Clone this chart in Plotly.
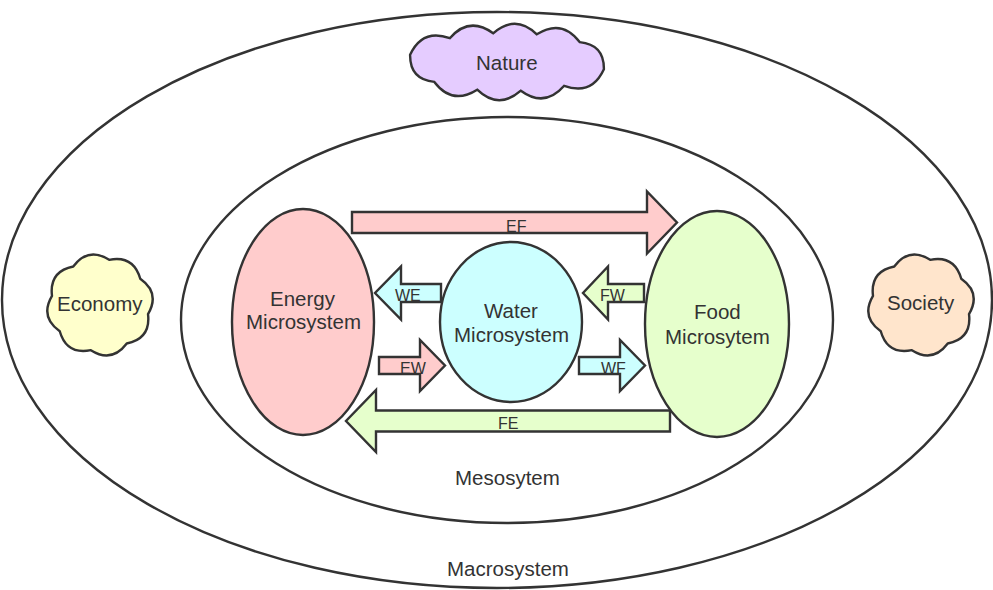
import numpy as np
import plotly.graph_objects as go

W, H = 993, 590

# ---------------- diagram content ----------------
system_labels = ["Macrosystem", "Mesosytem"]
micro_names = ["Energy", "Water", "Food"]
micro_line1 = ["Energy", "Water", "Food"]
micro_line2 = ["Microsystem", "Microsystem", "Microsytem"]
context_labels = ["Nature", "Economy", "Society"]
flow_labels = ["EF", "WE", "FW", "EW", "WF", "FE"]
flow_from = ["Energy", "Water", "Food", "Energy", "Water", "Food"]
flow_to = ["Food", "Energy", "Water", "Water", "Food", "Energy"]

# ---------------- layout / styles ----------------
LINE = "#333333"
TXT = "#333333"
FONT = "Liberation Sans, Arial, sans-serif"
LW = 2.4
micro_fill = {"Energy": "#ffcccc", "Water": "#ccffff", "Food": "#e6ffcc"}
context_fill = {"Nature": "#e5ccff", "Economy": "#ffffcc", "Society": "#ffe5cc"}

# ellipses: (cx, cy, rx, ry)
system_geom = {"Macrosystem": (497, 300, 495, 288), "Mesosytem": (507, 320, 326, 203)}
system_text_y = {"Macrosystem": 568, "Mesosytem": 477}
micro_geom = {"Energy": (303, 322, 71, 113), "Water": (511, 322, 71, 80), "Food": (717, 324, 72, 113)}
micro_text_y = {"Energy": (298, 321), "Water": (310, 334), "Food": (311, 336)}
# clouds: (cx, cy, a, b, n_bumps, phase)
context_geom = {"Nature": (507, 62, 100, 29, 10, 0.25), "Economy": (100, 305, 49, 46, 8, 0.2),
                "Society": (921, 305, 49, 46, 8, 0.2)}
context_text_y = {"Nature": 62, "Economy": 303, "Society": 302}
# arrows: (x_tail, x_tip, y_center, body_half, head_half, head_len, label_x, label_y)
flow_geom = {
    "EF": (352, 677, 222.5, 10.5, 31, 30, 516, 226),
    "WE": (441, 375, 293, 9, 26.5, 26, 408, 295),
    "FW": (644, 583, 293, 9, 26.5, 25, 613, 295),
    "EW": (379, 445, 365.5, 8.5, 25.5, 25, 413, 368),
    "WF": (579, 645, 365.5, 8.5, 25.5, 25, 613, 368),
    "FE": (670, 346, 421, 10.5, 31, 30, 508, 423),
}


def arrow_path(x_tail, x_tip, yc, bh, hh, hl):
    s = 1 if x_tip > x_tail else -1
    xb = x_tip - s * hl
    pts = [(x_tail, yc - bh), (xb, yc - bh), (xb, yc - hh), (x_tip, yc),
           (xb, yc + hh), (xb, yc + bh), (x_tail, yc + bh)]
    return "M " + " L ".join(f"{x:.2f},{y:.2f}" for x, y in pts) + " Z"


def cloud_path(cx, cy, a, b, n, k=0.46, phase=0.0):
    t = np.linspace(0, 2 * np.pi, 4001)
    ex = cx + a * np.cos(t + phase)
    ey = cy + b * np.sin(t + phase)
    seg = np.hypot(np.diff(ex), np.diff(ey))
    cum = np.concatenate([[0], np.cumsum(seg)])
    targets = np.linspace(0, cum[-1], n + 1)
    px = np.interp(targets, cum, ex)
    py = np.interp(targets, cum, ey)
    d = f"M {px[0]:.2f},{py[0]:.2f}"
    for i in range(n):
        x0, y0, x1, y1 = px[i], py[i], px[i + 1], py[i + 1]
        mx, my = (x0 + x1) / 2, (y0 + y1) / 2
        dx, dy = x1 - x0, y1 - y0
        L = np.hypot(dx, dy)
        nx, ny = -dy / L, dx / L
        if nx * (mx - cx) + ny * (my - cy) < 0:
            nx, ny = -nx, -ny
        qx, qy = mx + nx * k * L, my + ny * k * L
        d += f" Q {qx:.2f},{qy:.2f} {x1:.2f},{y1:.2f}"
    return d + " Z"


fig = go.Figure()
# invisible trace to set up axes
fig.add_trace(go.Scatter(x=[0, W], y=[0, H], mode="markers", marker=dict(opacity=0), hoverinfo="skip", showlegend=False))

shapes = []
annotations = []

for name in system_labels:
    cx, cy, rx, ry = system_geom[name]
    shapes.append(dict(type="circle", xref="x", yref="y", x0=cx - rx, x1=cx + rx, y0=cy - ry, y1=cy + ry,
                       line=dict(color=LINE, width=LW), fillcolor="rgba(0,0,0,0)"))
    annotations.append(dict(x=cx + 11 if name == "Macrosystem" else cx, y=system_text_y[name], text=name,
                            showarrow=False, xref="x", yref="y", font=dict(family=FONT, size=20.5, color=TXT)))

for name in context_labels:
    cx, cy, a, b, n, ph = context_geom[name]
    shapes.append(dict(type="path", xref="x", yref="y", path=cloud_path(cx, cy, a, b, n, phase=ph),
                       line=dict(color=LINE, width=LW), fillcolor=context_fill[name]))
    annotations.append(dict(x=cx, y=context_text_y[name], text=name, showarrow=False, xref="x", yref="y",
                            font=dict(family=FONT, size=20.5, color=TXT)))

for lab, src in zip(flow_labels, flow_from):
    xt, xp, yc, bh, hh, hl, lx, ly = flow_geom[lab]
    shapes.append(dict(type="path", xref="x", yref="y", path=arrow_path(xt, xp, yc, bh, hh, hl),
                       line=dict(color=LINE, width=LW), fillcolor=micro_fill[src]))
    annotations.append(dict(x=lx, y=ly, text=lab, showarrow=False, xref="x", yref="y",
                            font=dict(family=FONT, size=16, color=TXT)))

for name, l1, l2 in zip(micro_names, micro_line1, micro_line2):
    cx, cy, rx, ry = micro_geom[name]
    shapes.append(dict(type="circle", xref="x", yref="y", x0=cx - rx, x1=cx + rx, y0=cy - ry, y1=cy + ry,
                       line=dict(color=LINE, width=LW), fillcolor=micro_fill[name]))
    y1, y2 = micro_text_y[name]
    annotations.append(dict(x=cx, y=y1, text=l1, showarrow=False, xref="x", yref="y",
                            font=dict(family=FONT, size=20.5, color=TXT)))
    annotations.append(dict(x=cx, y=y2, text=l2, showarrow=False, xref="x", yref="y",
                            font=dict(family=FONT, size=20.5, color=TXT)))

fig.update_layout(
    width=W, height=H, autosize=False,
    margin=dict(l=0, r=0, t=0, b=0),
    paper_bgcolor="white", plot_bgcolor="white",
    xaxis=dict(range=[0, W], visible=False, fixedrange=True),
    yaxis=dict(range=[H, 0], visible=False, fixedrange=True),
    shapes=shapes, annotations=annotations, showlegend=False,
)

fig.write_html("out.html", config={"displayModeBar": False},
               post_script="document.body.style.margin='0';document.body.style.overflow='hidden';")
